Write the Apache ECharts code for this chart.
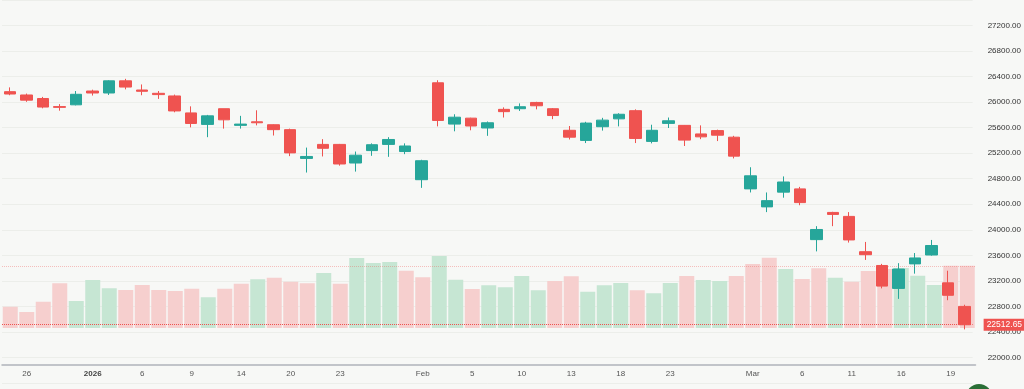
<!DOCTYPE html>
<html>
<head>
<meta charset="utf-8">
<script src="https://cdn.jsdelivr.net/npm/echarts@6/dist/echarts.min.js"></script>
<style>
html,body{margin:0;padding:0;background:#f7f8f6;}
#c{width:1024px;height:389px;}
</style>
</head>
<body>
<div id="c"></div>
<script>
const dates = ['2025-12-24','2025-12-26','2025-12-29','2025-12-30','2025-12-31','2026-01-01','2026-01-02','2026-01-05','2026-01-06','2026-01-07','2026-01-08','2026-01-09','2026-01-12','2026-01-13','2026-01-14','2026-01-16','2026-01-19','2026-01-20','2026-01-21','2026-01-22','2026-01-23','2026-01-27','2026-01-28','2026-01-29','2026-01-30','2026-02-02','2026-02-03','2026-02-04','2026-02-05','2026-02-06','2026-02-09','2026-02-10','2026-02-11','2026-02-12','2026-02-13','2026-02-16','2026-02-17','2026-02-18','2026-02-19','2026-02-20','2026-02-23','2026-02-24','2026-02-25','2026-02-26','2026-02-27','2026-03-02','2026-03-04','2026-03-05','2026-03-06','2026-03-09','2026-03-10','2026-03-11','2026-03-12','2026-03-13','2026-03-16','2026-03-17','2026-03-18','2026-03-19','2026-03-20'];
const opens  = [26164,26112,26057,25930,25958,26174,26143,26334,26190,26138,26097,25831,25651,25897,25636,25692,25646,25569,25118,25338,25338,25046,25241,25338,25226,24785,26303,25656,25749,25595,25887,25897,25995,25897,25559,25400,25615,25738,25866,25385,25667,25636,25502,25554,25451,24641,24359,24590,24641,23846,24272,24210,23657,23441,23082,23466,23605,23169,22800];
const closes = [26127,26031,25923,25918,26123,26143,26334,26236,26170,26118,25862,25666,25785,25723,25656,25677,25569,25205,25149,25277,25031,25169,25333,25415,25313,25082,25713,25764,25626,25677,25851,25928,25943,25790,25451,25672,25718,25810,25431,25559,25708,25405,25456,25482,25154,24846,24457,24749,24426,24005,24241,23841,23610,23118,23385,23559,23754,22974,22512.65];
const lows   = [26108,26005,25903,25866,25949,26103,26112,26200,26108,26051,25841,25605,25451,25585,25585,25636,25477,25154,24897,25149,25005,24912,25159,25143,25185,24657,25620,25543,25559,25472,25759,25862,25887,25733,25415,25359,25554,25620,25359,25354,25595,25313,25420,25390,25118,24585,24277,24503,24385,23662,24057,23800,23528,23082,22918,23313,23595,22897,22440];
const highs  = [26231,26134,26082,25969,26174,26195,26343,26365,26277,26174,26118,25934,25800,25897,25785,25872,25652,25585,25288,25420,25345,25226,25354,25451,25354,25097,26343,25810,25755,25697,25918,25980,26005,25908,25626,25692,25754,25826,25887,25646,25759,25642,25636,25569,25472,24980,24585,24836,24672,24057,24282,24277,23810,23466,23477,23636,23841,23359,22826];
const volumes = [85,64,105,179,108,192,159,152,172,152,148,157,123,157,177,195,201,185,179,220,177,280,260,264,229,203,288,193,156,171,163,208,151,188,207,145,171,180,151,139,180,208,192,188,208,256,281,236,196,239,201,185,228,236,240,209,172,249,249];
const tickLabels = [['2025-12-26','26'],['2026-01-01','2026'],['2026-01-06','6'],['2026-01-09','9'],['2026-01-14','14'],['2026-01-20','20'],['2026-01-23','23'],['2026-02-02','Feb'],['2026-02-05','5'],['2026-02-10','10'],['2026-02-13','13'],['2026-02-18','18'],['2026-02-23','23'],['2026-03-02','Mar'],['2026-03-06','6'],['2026-03-11','11'],['2026-03-16','16'],['2026-03-19','19']];
const priceTicks = {min:21600, max:27600, interval:400};

const UP = '#26a69a', DOWN = '#ef5350';
const VOL_UP = '#c6e6d3', VOL_DOWN = '#f6cfce';
const tickMap = new Map(tickLabels);
const candleData = dates.map((d,i)=>[opens[i],closes[i],lows[i],highs[i]]);
const volData = volumes.map((v,i)=>{
  const up = i===0 ? closes[i]>=opens[i] : closes[i]>=closes[i-1];
  return {value:v, itemStyle:{color: up?VOL_UP:VOL_DOWN}};
});
const lastClose = closes[closes.length-1];
const lastVol = volumes[volumes.length-1];
const L = 2, R = 48.5;
const chart = echarts.init(document.getElementById('c'), null, {renderer:'canvas'});
chart.setOption({
  backgroundColor:'#f7f8f6',
  animation:false,
  grid:[
    {left:L, right:R, top:-7, bottom:6},
    {left:L, right:R, top:200, bottom:61},
    {left:L, right:R, top:300, bottom:24}
  ],
  xAxis:[
    {type:'category', gridIndex:0, data:dates, boundaryGap:true, show:false},
    {type:'category', gridIndex:1, data:dates, boundaryGap:true, show:false},
    {type:'category', gridIndex:2, data:dates, boundaryGap:true,
     axisLine:{show:true, lineStyle:{color:'#b0b3ba', width:1.5}},
     axisTick:{show:false},
     axisLabel:{
       interval:(idx,val)=>tickMap.has(val),
       formatter:(val)=>{const t=tickMap.get(val)||''; return /^\d{4}$/.test(t)?'{b|'+t+'}':t;},
       color:'#555', fontSize:8, margin:5, fontFamily:'Liberation Sans',
       rich:{b:{fontWeight:'bold', color:'#444', fontSize:8, fontFamily:'Liberation Sans'}}
     },
     splitLine:{show:false}}
  ],
  yAxis:[
    {type:'value', gridIndex:0, position:'right', min:priceTicks.min, max:priceTicks.max, interval:priceTicks.interval,
     axisLine:{show:false}, axisTick:{show:false},
     axisLabel:{showMinLabel:false, showMaxLabel:false, formatter:v=>v.toFixed(2), color:'#333', fontSize:8, margin:15, fontFamily:'Liberation Sans'},
     splitLine:{show:true, lineStyle:{color:'#eceeea', width:1}}},
    {type:'value', gridIndex:1, min:0, max:512, show:false, splitLine:{show:false}},
    {type:'value', gridIndex:2, show:false, splitLine:{show:false}}
  ],
  series:[
    {type:'bar', name:'Volume', xAxisIndex:1, yAxisIndex:1, data:volData, barWidth:15, z:1,
     markLine:{silent:true, symbol:'none', label:{show:false},
       lineStyle:{type:'dotted', color:'rgba(239,83,80,0.35)', width:1},
       data:[{yAxis:lastVol}]}},
    {type:'candlestick', name:'Price', xAxisIndex:0, yAxisIndex:0, data:candleData, barWidth:12, z:3,
     itemStyle:{color:UP, color0:DOWN, borderColor:UP, borderColor0:DOWN, borderWidth:1},
     markLine:{silent:true, symbol:'none',
       lineStyle:{type:'dotted', color:DOWN, width:1},
       label:{show:true, position:'end', distance:11, formatter:p=>Number(p.value).toFixed(2),
         color:'#fff', backgroundColor:DOWN, fontSize:8.5, padding:[2,4,1,3], fontFamily:'Liberation Sans'},
       data:[{yAxis:lastClose}]}}
  ],
  graphic:[{type:'circle', shape:{cx:979, cy:397, r:13}, style:{fill:'#2a6e36'}, z:10}]
});
</script>
</body>
</html>
